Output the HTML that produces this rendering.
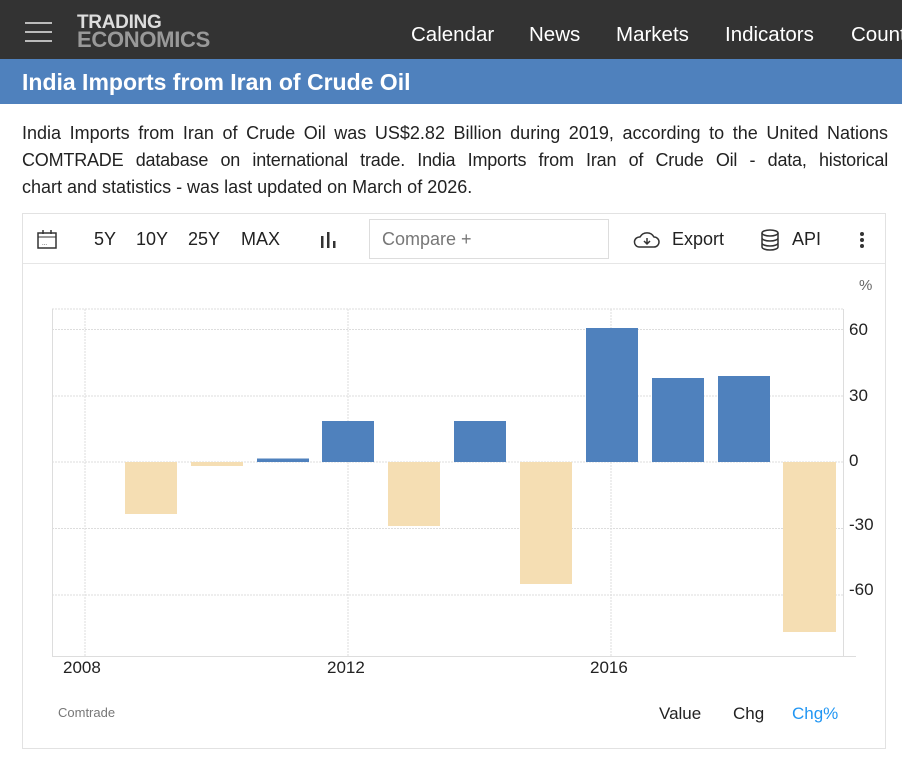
<!DOCTYPE html>
<html><head><meta charset="utf-8"><style>
body{margin:0;width:902px;height:758px;background:#fff;font-family:"Liberation Sans",Arial,sans-serif;overflow:hidden;position:relative}
.top{position:absolute;left:0;top:0;width:902px;height:59px;background:#333}
.ham{position:absolute;left:25px;width:27px;height:2px;background:#bbb}
.logo{position:absolute;left:77px;top:14px;font-weight:bold;line-height:17px;letter-spacing:-0.3px}
.nav{position:absolute;top:23px;color:#fff;font-size:20.5px}
.title{position:absolute;left:0;top:59px;width:902px;height:45px;background:#4f81bd;color:#fff;font-size:23px;font-weight:bold}
.desc{position:absolute;left:22px;top:120px;width:866px;font-size:18px;line-height:27px;color:#222}
.desc div{white-space:nowrap}
.j{text-align:justify;text-align-last:justify}
.box{position:absolute;left:22px;top:213px;width:864px;height:536px;border:1px solid #e2e2e2;box-sizing:border-box}
.tb{position:absolute;top:229px;font-size:18px;color:#222}
</style></head><body>
<div class="top">
<div class="ham" style="top:22px"></div><div class="ham" style="top:31px"></div><div class="ham" style="top:40px"></div>
<div class="logo"><div style="color:#ddd;font-size:19px">TRADING</div><div style="color:#999;font-size:22px">ECONOMICS</div></div>
<div class="nav" style="left:411px">Calendar</div>
<div class="nav" style="left:529px">News</div>
<div class="nav" style="left:616px">Markets</div>
<div class="nav" style="left:725px">Indicators</div>
<div class="nav" style="left:851px">Countries</div>
</div>
<div class="title"><span style="position:absolute;left:22px;top:10px">India Imports from Iran of Crude Oil</span></div>
<div class="desc"><div class="j" style="white-space:normal;height:27px;overflow:hidden">India Imports from Iran of Crude Oil was US$2.82 Billion during 2019, according to the United Nations</div><div class="j" style="white-space:normal;height:27px;overflow:hidden;letter-spacing:-0.2px">COMTRADE database on international trade. India Imports from Iran of Crude Oil - data, historical</div><div>chart and statistics - was last updated on March of 2026.</div></div>
<div class="box"></div>
<div style="position:absolute;left:23px;top:263px;width:862px;height:1px;background:#e6e6e6"></div>
<svg style="position:absolute;left:36px;top:228px" width="22" height="22"><rect x="2" y="5" width="18" height="15" fill="none" stroke="#333" stroke-width="1.5"/><line x1="2" y1="9" x2="20" y2="9" stroke="#333"/><line x1="7" y1="2" x2="7" y2="6" stroke="#333" stroke-width="1.5"/><line x1="15" y1="2" x2="15" y2="6" stroke="#333" stroke-width="1.5"/><text x="6" y="17" font-size="6" fill="#333">...</text></svg>
<div class="tb" style="left:94px">5Y</div><div class="tb" style="left:136px">10Y</div><div class="tb" style="left:188px">25Y</div><div class="tb" style="left:241px">MAX</div>
<svg style="position:absolute;left:320px;top:230px" width="20" height="20"><rect x="1" y="6" width="2.5" height="12" fill="#333"/><rect x="7" y="2" width="2.5" height="16" fill="#333"/><rect x="13" y="11" width="2.5" height="7" fill="#333"/></svg>
<div style="position:absolute;left:369px;top:219px;width:240px;height:40px;border:1px solid #ddd;box-sizing:border-box"></div>
<div class="tb" style="left:382px;color:#777;top:229px">Compare +</div>
<svg style="position:absolute;left:632px;top:229px" width="30" height="22"><path d="M7 18 H22 A5 5 0 0 0 22 8 A8 8 0 0 0 8 8 A5 5 0 0 0 7 18Z" fill="none" stroke="#333" stroke-width="1.5"/><path d="M15 9 V15 M12 12 L15 15 L18 12" stroke="#333" stroke-width="1.5" fill="none"/></svg>
<div class="tb" style="left:672px">Export</div>
<svg style="position:absolute;left:759px;top:228px" width="22" height="24"><ellipse cx="11" cy="5" rx="8" ry="3" fill="none" stroke="#333" stroke-width="1.5"/><path d="M3 5V19 A8 3 0 0 0 19 19 V5 M3 10 A8 3 0 0 0 19 10 M3 15 A8 3 0 0 0 19 15" fill="none" stroke="#333" stroke-width="1.5"/></svg>
<div class="tb" style="left:792px">API</div>
<svg style="position:absolute;left:858px;top:230px" width="8" height="20"><circle cx="4" cy="4" r="2" fill="#333"/><circle cx="4" cy="10" r="2" fill="#333"/><circle cx="4" cy="16" r="2" fill="#333"/></svg>
<svg style="position:absolute;left:0;top:0" width="902" height="758">
<g stroke="#ddd" stroke-dasharray="2,1" stroke-width="1">
<line x1="52" y1="309" x2="843" y2="309"/>
<line x1="52" y1="329.5" x2="843" y2="329.5"/><line x1="52" y1="396" x2="843" y2="396"/><line x1="52" y1="462" x2="843" y2="462"/><line x1="52" y1="528.5" x2="843" y2="528.5"/><line x1="52" y1="595" x2="843" y2="595"/>
<line x1="85" y1="309" x2="85" y2="657"/><line x1="348" y1="309" x2="348" y2="657"/><line x1="611" y1="309" x2="611" y2="657"/>
</g>
<line x1="52.5" y1="309" x2="52.5" y2="657" stroke="#ddd"/>
<line x1="843.5" y1="309" x2="843.5" y2="657" stroke="#ddd"/>
<line x1="52" y1="656.5" x2="856" y2="656.5" stroke="#ddd"/>
<g fill="#f5deb3">
<rect x="125" y="462" width="52" height="52"/><rect x="191" y="462" width="52" height="4"/><rect x="388" y="462" width="52" height="64"/><rect x="520" y="462" width="52" height="122"/><rect x="783" y="462" width="53" height="170"/>
</g>
<g fill="#4f81bd">
<rect x="257" y="458.5" width="52" height="3.5"/><rect x="322" y="421" width="52" height="41"/><rect x="454" y="421" width="52" height="41"/><rect x="586" y="328" width="52" height="134"/><rect x="652" y="378" width="52" height="84"/><rect x="718" y="376" width="52" height="86"/>
</g>
<g font-size="17" fill="#222" font-family="Liberation Sans,Arial,sans-serif">
<text x="849" y="335">60</text><text x="849" y="401">30</text><text x="849" y="466">0</text><text x="849" y="530">-30</text><text x="849" y="595">-60</text>
<text x="63" y="673">2008</text><text x="327" y="673">2012</text><text x="590" y="673">2016</text>
<text x="659" y="719">Value</text><text x="733" y="719">Chg</text><text x="792" y="719" fill="#2196f3">Chg%</text>
</g>
<text x="859" y="290" font-size="15" fill="#666" font-family="Liberation Sans,Arial,sans-serif">%</text>
<text x="58" y="717" font-size="13" fill="#777" font-family="Liberation Sans,Arial,sans-serif">Comtrade</text>
</svg>
</body></html>
